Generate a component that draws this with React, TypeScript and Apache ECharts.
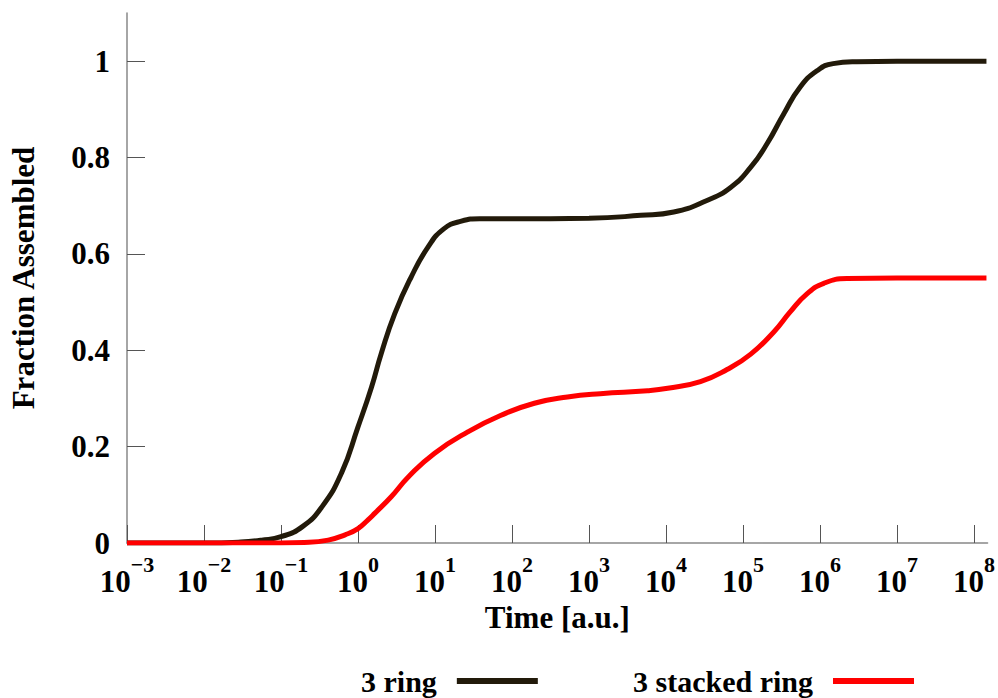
import { useEffect, useRef } from 'react';
import * as echarts from 'echarts';

// "3 ring" curve (time in a.u., fraction assembled)
const ringTime = [0.001, 0.01, 0.03, 0.056, 0.1, 0.19, 0.34, 0.61, 1, 1.5, 2, 3, 4.9, 8.1, 13, 22, 38, 100, 1000, 4700, 12600, 34000, 69000, 126000, 204000, 339000, 550000, 912000, 1480000, 3000000, 10000000, 145000000];
const ringFraction = [0, 0, 0.002, 0.006, 0.013, 0.034, 0.075, 0.145, 0.241, 0.324, 0.393, 0.476, 0.552, 0.614, 0.652, 0.668, 0.673, 0.673, 0.674, 0.68, 0.687, 0.711, 0.738, 0.78, 0.828, 0.891, 0.946, 0.98, 0.995, 0.999, 1, 1];

// "3 stacked ring" curve
const stackedTime = [0.001, 0.1, 0.2, 0.41, 0.68, 1, 1.35, 1.66, 2.7, 4.5, 9.8, 27, 72, 195, 525, 1400, 5750, 10500, 28000, 62000, 126000, 251000, 407000, 676000, 1120000, 2240000, 10000000, 145000000];
const stackedFraction = [0, 0, 0.001, 0.006, 0.017, 0.03, 0.048, 0.062, 0.096, 0.137, 0.186, 0.231, 0.265, 0.29, 0.303, 0.31, 0.316, 0.321, 0.335, 0.36, 0.392, 0.438, 0.479, 0.517, 0.539, 0.549, 0.55, 0.55];

const seriesNames = ['3 ring', '3 stacked ring'];
const xTickValues = [1e-3, 1e-2, 1e-1, 1, 1e1, 1e2, 1e3, 1e4, 1e5, 1e6, 1e7, 1e8];
const yTickValues = [0, 0.2, 0.4, 0.6, 0.8, 1];

const FONT = '"Liberation Serif", "Times New Roman", serif';

export default function App() {
  const ref = useRef<HTMLDivElement>(null);
  useEffect(() => {
    if (!ref.current) return;
    const chart = echarts.init(ref.current, null, { renderer: 'svg' });
    const zip = (t: number[], v: number[]) => t.map((x, i) => [x, v[i]]);
    const legendBase = {
      top: 666,
      align: 'right',
      orient: 'horizontal',
      icon: 'rect',
      itemWidth: 81,
      itemHeight: 6,
      padding: 0,
      formatter: (name: string) => name + '\u00a0\u00a0',
      textStyle: { fontFamily: FONT, fontWeight: 'bold', fontSize: 30, color: '#000' },
    };
    chart.setOption({
      animation: false,
      backgroundColor: '#ffffff',
      grid: { left: 125, right: 10, top: 13, bottom: 155, containLabel: false },
      legend: [
        { ...legendBase, left: 361, data: [seriesNames[0]] },
        { ...legendBase, left: 633, data: [seriesNames[1]] },
      ],
      xAxis: {
        type: 'log',
        logBase: 10,
        min: 0.001,
        max: 1.5e8,
        name: 'Time [a.u.]',
        nameLocation: 'middle',
        nameGap: 58,
        nameTextStyle: { fontFamily: FONT, fontWeight: 'bold', fontSize: 31, color: '#000' },
        axisLine: { show: true, lineStyle: { color: '#888', width: 1.5 } },
        axisTick: { show: true, inside: true, length: 18, customValues: xTickValues, lineStyle: { color: '#555', width: 1 } },
        splitLine: { show: false },
        minorTick: { show: false },
        axisLabel: {
          customValues: xTickValues,
          margin: 10,
          formatter: (v: number) => {
            const e = Math.round(Math.log10(v));
            const s = e < 0 ? '\u2212' + -e : String(e);
            return '{b|10}{s|' + s + '}';
          },
          rich: {
            b: { fontFamily: FONT, fontWeight: 'bold', fontSize: 31, color: '#000', lineHeight: 44, verticalAlign: 'bottom' },
            s: { fontFamily: FONT, fontWeight: 'bold', fontSize: 22, color: '#000', lineHeight: 22, verticalAlign: 'top' },
          },
        },
      },
      yAxis: {
        type: 'value',
        min: 0,
        max: 1.1,
        name: 'Fraction Assembled',
        nameLocation: 'middle',
        nameGap: 88,
        nameTextStyle: { fontFamily: FONT, fontWeight: 'bold', fontSize: 31, color: '#000' },
        axisLine: { show: true, lineStyle: { color: '#888', width: 1.5 } },
        axisTick: { show: true, inside: true, length: 18, customValues: yTickValues, lineStyle: { color: '#555', width: 1 } },
        splitLine: { show: false },
        axisLabel: {
          customValues: yTickValues,
          margin: 17,
          fontFamily: FONT,
          fontWeight: 'bold',
          fontSize: 31,
          color: '#000',
        },
      },
      series: [
        {
          name: seriesNames[0],
          type: 'line',
          data: zip(ringTime, ringFraction),
          showSymbol: false,
          smooth: 0.5,
          lineStyle: { color: '#221a0a', width: 5 },
          itemStyle: { color: '#221a0a' },
          z: 3,
        },
        {
          name: seriesNames[1],
          type: 'line',
          data: zip(stackedTime, stackedFraction),
          showSymbol: false,
          smooth: 0.5,
          lineStyle: { color: '#ff0000', width: 5 },
          itemStyle: { color: '#ff0000' },
          z: 4,
        },
      ],
    });
    return () => chart.dispose();
  }, []);
  return <div ref={ref} style={{ width: 998, height: 698, position: 'absolute', left: 0, top: 0 }} />;
}
